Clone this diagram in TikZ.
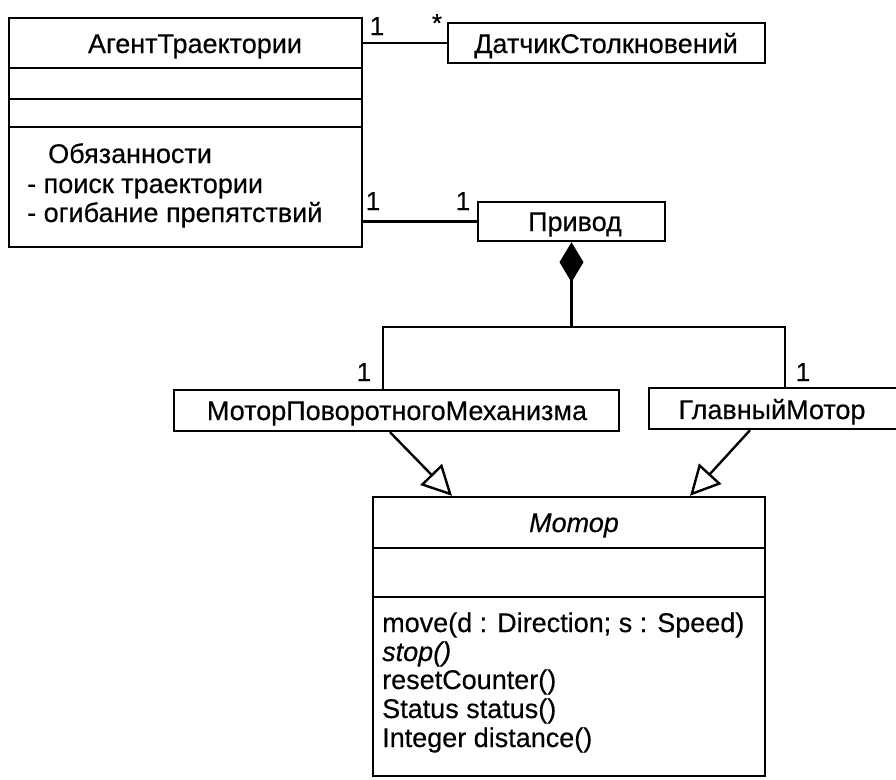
\documentclass[tikz,border=0pt]{standalone}
\usepackage{fontspec}
\setmainfont{Liberation Sans}[
  BoldFont={Liberation Sans},
  BoldFeatures={FakeBold=0.4},
  BoldItalicFont={Liberation Sans Italic},
  BoldItalicFeatures={FakeBold=0.4}]
\usetikzlibrary{arrows.meta}

\tikzset{
  cls/.style={draw, line width=2.4pt, rectangle, inner sep=0pt, anchor=center},
  txt/.style={inner sep=0pt, anchor=base, font=\fontsize{27}{28}\selectfont\bfseries},
  ltxt/.style={txt, anchor=base west},
  itxt/.style={font=\fontsize{27}{28}\selectfont\bfseries\itshape},
  mult/.style={inner sep=0pt, anchor=base, font=\fontsize{26}{26}\selectfont\bfseries},
  link/.style={line width=2.4pt},
  thinlink/.style={line width=1.4pt},
  sep/.style={line width=2.4pt},
  gen/.style={line width=2.4pt, -{Triangle[open, length=30pt, width=30pt, fill=white]}},
  comp/.style={line width=2.4pt, -{Diamond[length=40pt, width=24pt, fill=black]}}
}

\begin{document}
\begin{tikzpicture}[x=1pt, y=-1pt]
\useasboundingbox (0,0) rectangle (896,779);

% --- class boxes ---
\node[cls, minimum width=353pt, minimum height=229pt] (agent) at (185.5,132.5) {};
\node[cls, minimum width=317pt, minimum height=40pt] (sensor) at (606.5,43) {};
\node[cls, minimum width=187pt, minimum height=39pt] (drive) at (571.5,221.5) {};
\node[cls, minimum width=445pt, minimum height=41pt] (steer) at (396.5,410.5) {};
\node[cls, minimum width=249pt, minimum height=41pt] (mainm) at (773.5,408.5) {};
\node[cls, minimum width=392pt, minimum height=279pt] (motor) at (569,636.5) {};

% --- class names ---
\node[txt] (sensorname) at (606,53) {ДатчикСтолкновений};
\node[txt] (drivename) at (575,231) {Привод};
\node[txt] (steername) at (397,420) {МоторПоворотногоМеханизма};
\node[txt] (mainmname) at (772,419) {ГлавныйМотор};

% --- compartments of the trajectory agent ---
\draw[sep] (agent.west |- 0,68) -- (agent.east |- 0,68);
\draw[sep] (agent.west |- 0,99) -- (agent.east |- 0,99);
\draw[sep] (agent.west |- 0,127) -- (agent.east |- 0,127);
\node[txt] (agentname) at (195,53) {АгентТраектории};
\node[ltxt] (resp) at (48,163) {Обязанности};
\node[ltxt] (resp1) at (27,193) {- поиск траектории};
\node[ltxt] (resp2) at (27,222) {- огибание препятствий};

% --- compartments of the abstract motor ---
\draw[sep] (motor.west |- 0,548) -- (motor.east |- 0,548);
\draw[sep] (motor.west |- 0,597) -- (motor.east |- 0,597);
\node[txt, itxt] (motorname) at (574,532) {Мотор};
\node[ltxt] (op1) at (382,632) {move(d : Direction; s : Speed)};
\node[ltxt, itxt] (op2) at (382,661) {stop()};
\node[ltxt] (op3) at (382,689) {resetCounter()};
\node[ltxt] (op4) at (382,718) {Status status()};
\node[ltxt] (op5) at (382,747) {Integer distance()};

% --- associations ---
\draw[thinlink] (sensor.west -| agent.east) -- (sensor.west);
\node[mult] (m1) at (377,35) {1};
\node[mult] (m2) at (437,32) {*};

\draw[link] (drive.west -| agent.east) -- (drive.west);
\node[mult] (m3) at (373,210) {1};
\node[mult] (m4) at (463,210) {1};

% --- composition of the drive ---
\coordinate (jl) at (383,327);
\coordinate (jr) at (785,327);
\coordinate (jm) at (drive.south |- jl);
\draw[comp] (jm) -- (drive.south);
\draw[link] (steer.north -| jl) -- (jl) -- (jr) -- (mainm.north -| jr);
\node[mult] (m5) at (364,381) {1};
\node[mult] (m6) at (803,381) {1};

% --- generalizations ---
\coordinate (g1s) at (390,431);
\coordinate (g1e) at (452,497);
\coordinate (g2s) at (750,429);
\coordinate (g2e) at (690,497);
\draw[gen] (steer.south -| g1s) -- (motor.north -| g1e);
\draw[gen] (mainm.south -| g2s) -- (motor.north -| g2e);
\end{tikzpicture}
\end{document}
